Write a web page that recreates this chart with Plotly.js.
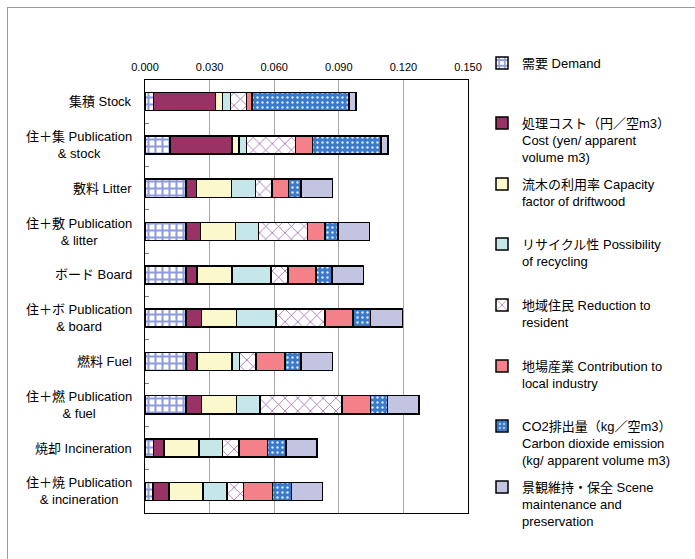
<!DOCTYPE html>
<html>
<head>
<meta charset="utf-8">
<script src="https://cdn.plot.ly/plotly-3.0.1.min.js"></script>
<style>
  html, body { margin: 0; padding: 0; background: #ffffff; }
  #chart { width: 695px; height: 559px; }
</style>
</head>
<body>
<div id="chart"></div>
<script>
// Disposal options (top to bottom)
const categories = [
  "集積 Stock",
  "住＋集 Publication<br>& stock",
  "敷料 Litter",
  "住＋敷 Publication<br>& litter",
  "ボード Board",
  "住＋ボ Publication<br>& board",
  "燃料 Fuel",
  "住＋燃 Publication<br>& fuel",
  "焼却 Incineration",
  "住＋焼 Publication<br>& incineration"
];

// Weighted scores per criterion
const demand    = [0.0039, 0.0116, 0.0190, 0.0190, 0.0190, 0.0190, 0.0190, 0.0190, 0.0039, 0.0036];
const cost      = [0.0288, 0.0288, 0.0050, 0.0068, 0.0052, 0.0073, 0.0052, 0.0073, 0.0050, 0.0076];
const capacity  = [0.0032, 0.0032, 0.0161, 0.0162, 0.0161, 0.0161, 0.0161, 0.0161, 0.0161, 0.0158];
const recycling = [0.0037, 0.0036, 0.0111, 0.0108, 0.0182, 0.0184, 0.0036, 0.0110, 0.0110, 0.0111];
const resident  = [0.0076, 0.0227, 0.0077, 0.0226, 0.0079, 0.0227, 0.0077, 0.0380, 0.0077, 0.0077];
const industry  = [0.0026, 0.0080, 0.0077, 0.0082, 0.0131, 0.0131, 0.0135, 0.0133, 0.0133, 0.0133];
const co2       = [0.0450, 0.0317, 0.0059, 0.0060, 0.0074, 0.0082, 0.0074, 0.0080, 0.0084, 0.0090];
const scene     = [0.0031, 0.0032, 0.0145, 0.0147, 0.0145, 0.0147, 0.0145, 0.0145, 0.0145, 0.0144];

const seriesNames = [
  "需要 Demand",
  "処理コスト（円／空m3）<br>Cost (yen/ apparent<br>volume m3)",
  "流木の利用率 Capacity<br>factor of driftwood",
  "リサイクル性 Possibility<br>of recycling",
  "地域住民 Reduction to<br>resident",
  "地場産業 Contribution to<br>local industry",
  "CO2排出量（kg／空m3）<br>Carbon dioxide emission<br>(kg/ apparent volume m3)",
  "景観維持・保全 Scene<br>maintenance and<br>preservation"
];

const xTicks = [0, 0.03, 0.06, 0.09, 0.12, 0.15];

// ---- styling ----
const FONT = "'Liberation Sans', 'Noto Sans CJK JP', sans-serif";
const W = 695, H = 559;
const plot = { l: 145, r: 468, t: 80, b: 513 };

const fills = [
  { color: "#ffffff", pattern: { shape: "+", fgcolor: "#8d9bdc", bgcolor: "#ffffff", size: 7, solidity: 0.5, fillmode: "replace" } },
  { color: "#993366" },
  { color: "#fbf9cc" },
  { color: "#c6e7ea" },
  { color: "#ffffff", pattern: { shape: "x", fgcolor: "#935ea2", bgcolor: "#ffffff", size: 9, solidity: 0.16, fillmode: "replace" } },
  { color: "#f4808a" },
  { color: "#3a7acb", pattern: { shape: ".", fgcolor: "#dfe9f7", bgcolor: "#3a7acb", size: 5, solidity: 0.18, fillmode: "replace" } },
  { color: "#c2c4e2" }
];

const seriesValues = [demand, cost, capacity, recycling, resident, industry, co2, scene];

// first-line centre of each legend entry, in px from the top
const legendCentres = [63, 123, 184, 244, 305, 366, 426, 487];

const traces = seriesValues.map((vals, i) => {
  const marker = { color: fills[i].color, line: { color: "#000000", width: 1.5 } };
  if (fills[i].pattern) marker.pattern = fills[i].pattern;
  return {
    type: "bar",
    orientation: "h",
    name: seriesNames[i],
    x: vals,
    y: categories,
    marker: marker,
    legend: i === 0 ? "legend" : "legend" + (i + 1),
    hoverinfo: "skip"
  };
});

const layout = {
  width: W,
  height: H,
  paper_bgcolor: "#ffffff",
  plot_bgcolor: "#ffffff",
  margin: { l: plot.l, r: W - plot.r, t: plot.t, b: H - plot.b, pad: 0 },
  barmode: "stack",
  bargap: 0.58,
  font: { family: FONT, size: 13, color: "#000000" },
  xaxis: {
    side: "top",
    range: [0, 0.15],
    tickvals: xTicks,
    tickformat: ".3f",
    ticks: "",
    showgrid: true,
    gridcolor: "#a6a6a6",
    gridwidth: 1,
    zeroline: false,
    showline: true,
    linecolor: "#000000",
    linewidth: 1,
    mirror: true,
    tickfont: { family: FONT, size: 11, color: "#000000" },
    ticklabelstandoff: 4,
    fixedrange: true
  },
  yaxis: {
    type: "category",
    autorange: "reversed",
    showticklabels: false,
    ticks: "inside",
    tickson: "boundaries",
    ticklen: 4,
    tickcolor: "#7f7f7f",
    showgrid: false,
    zeroline: false,
    showline: true,
    linecolor: "#000000",
    linewidth: 1,
    mirror: true,
    fixedrange: true
  },
  showlegend: true,
  annotations: categories.map(c => ({
    text: c,
    xref: "paper",
    yref: "y",
    x: (134 - plot.l) / (plot.r - plot.l),
    y: c,
    xanchor: "right",
    yanchor: "middle",
    align: "center",
    showarrow: false,
    font: { family: FONT, size: 13, color: "#000000" }
  })),
  shapes: [
    // outer frame (top and left edges)
    { type: "line", xref: "paper", yref: "paper",
      x0: (7 - plot.l) / (plot.r - plot.l), x1: (W + 5 - plot.l) / (plot.r - plot.l),
      y0: (plot.b - 7.5) / (plot.b - plot.t), y1: (plot.b - 7.5) / (plot.b - plot.t),
      line: { color: "#9a9a9a", width: 1 } },
    { type: "line", xref: "paper", yref: "paper",
      x0: (7.5 - plot.l) / (plot.r - plot.l), x1: (7.5 - plot.l) / (plot.r - plot.l),
      y0: (plot.b - 7.5) / (plot.b - plot.t), y1: (plot.b - H - 5) / (plot.b - plot.t),
      line: { color: "#9a9a9a", width: 1 } }
  ]
};

legendCentres.forEach((cy, i) => {
  const key = i === 0 ? "legend" : "legend" + (i + 1);
  layout[key] = {
    xref: "container",
    yref: "container",
    x: 482 / W,
    y: 1 - (cy - 15) / H,
    xanchor: "left",
    yanchor: "top",
    valign: "top",
    bgcolor: "rgba(0,0,0,0)",
    borderwidth: 0,
    font: { family: FONT, size: 13, color: "#000000" },
    itemclick: false,
    itemdoubleclick: false
  };
});

Plotly.newPlot("chart", traces, layout, { displayModeBar: false, staticPlot: false, responsive: false });
</script>
</body>
</html>
